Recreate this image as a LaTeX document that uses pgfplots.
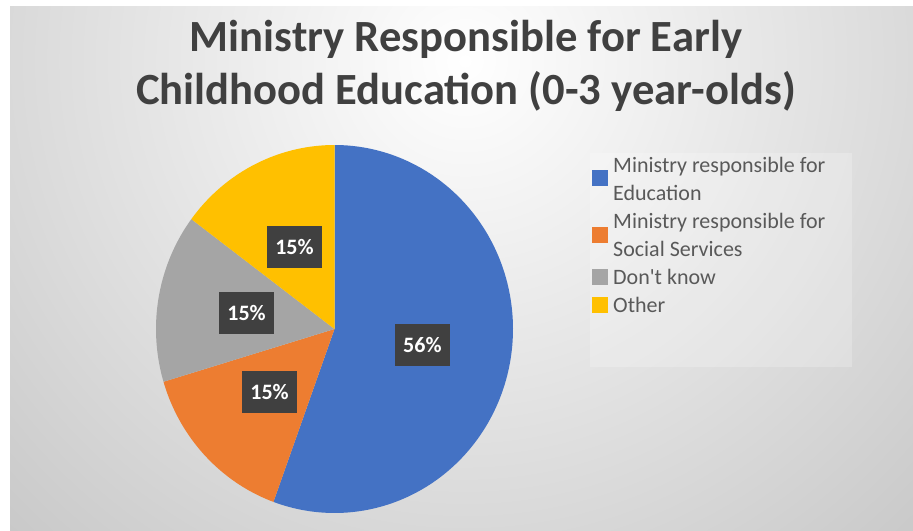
\documentclass[border=0pt]{standalone}
\usepackage{pgfplots}
\pgfplotsset{compat=1.18}
\usepackage{pgfplotstable}
\usepackage{fontspec}
\setmainfont{Carlito}
\definecolor{pieblue}{HTML}{4472C4}
\definecolor{pieorange}{HTML}{ED7D31}
\definecolor{piegray}{HTML}{A5A5A5}
\definecolor{pieyellow}{HTML}{FFC000}
\definecolor{lblbg}{HTML}{404040}
\definecolor{titlec}{HTML}{404040}
\definecolor{legc}{HTML}{595959}
\tikzset{lbl/.style={fill=lblbg, text=white, font=\fontsize{22bp}{26bp}\selectfont\bfseries,
     minimum width=55bp, minimum height=42bp, inner sep=0pt}}

\pgfplotstableread{
value pct
15 56
4 15
4 15
4 15
}\piedata

\begin{document}
\begin{tikzpicture}
\useasboundingbox (0bp,0bp) rectangle (913bp,531bp);
\fill[white] (0bp,0bp) rectangle (913bp,531bp);
\begin{scope}
\clip (10bp,0bp) rectangle (913bp,524bp);
\shade[inner color=white, outer color=black!22] (465bp,470bp) circle (680bp);
\end{scope}

\pgfplotstablegetelem{0}{value}\of\piedata \let\vA\pgfplotsretval
\pgfplotstablegetelem{1}{value}\of\piedata \let\vB\pgfplotsretval
\pgfplotstablegetelem{2}{value}\of\piedata \let\vC\pgfplotsretval
\pgfplotstablegetelem{3}{value}\of\piedata \let\vD\pgfplotsretval
\pgfplotstablegetelem{0}{pct}\of\piedata \let\pA\pgfplotsretval
\pgfplotstablegetelem{1}{pct}\of\piedata \let\pB\pgfplotsretval
\pgfplotstablegetelem{2}{pct}\of\piedata \let\pC\pgfplotsretval
\pgfplotstablegetelem{3}{pct}\of\piedata \let\pD\pgfplotsretval
\pgfmathsetmacro\tot{\vA+\vB+\vC+\vD}
\pgfmathsetmacro\aA{90}
\pgfmathsetmacro\aB{\aA-360*\vA/\tot}
\pgfmathsetmacro\aC{\aB-360*\vB/\tot}
\pgfmathsetmacro\aD{\aC-360*\vC/\tot}
\pgfmathsetmacro\aE{\aD-360*\vD/\tot}
\pgfmathsetmacro\mA{(\aA+\aB)/2}
\pgfmathsetmacro\mB{(\aB+\aC)/2}
\pgfmathsetmacro\mC{(\aC+\aD)/2}
\pgfmathsetmacro\mD{(\aD+\aE)/2}

\begin{axis}[
  at={(334.5bp,202bp)}, anchor=center,
  width=357bp, height=368bp, scale only axis,
  xmin=-1, xmax=1, ymin=-1, ymax=1,
  hide axis, clip=false,
]
\addplot[draw=none, fill=pieblue, domain=\aB:\aA, samples=150, variable=\t]
  ({cos(\t)},{sin(\t)}) -- (axis cs:0,0) -- cycle;
\addplot[draw=none, fill=pieorange, domain=\aC:\aB, samples=60, variable=\t]
  ({cos(\t)},{sin(\t)}) -- (axis cs:0,0) -- cycle;
\addplot[draw=none, fill=piegray, domain=\aD:\aC, samples=60, variable=\t]
  ({cos(\t)},{sin(\t)}) -- (axis cs:0,0) -- cycle;
\addplot[draw=none, fill=pieyellow, domain=\aE:\aD, samples=60, variable=\t]
  ({cos(\t)},{sin(\t)}) -- (axis cs:0,0) -- cycle;
\node[lbl] at (axis cs:{0.5*cos(\mA)},{0.5*sin(\mA)}) {\pA\%};
\node[lbl] at (axis cs:{0.5*cos(\mB)},{0.5*sin(\mB)}) {\pB\%};
\node[lbl] at (axis cs:{0.5*cos(\mC)},{0.5*sin(\mC)}) {\pC\%};
\node[lbl] at (axis cs:{0.5*cos(\mD)},{0.5*sin(\mD)}) {\pD\%};
\end{axis}

% title
\node[anchor=base, inner sep=0pt, text=titlec, font=\fontsize{44.6bp}{54bp}\selectfont\bfseries]
  at (466bp,479.3bp) {Ministry Responsible for Early};
\node[anchor=base, inner sep=0pt, text=titlec, font=\fontsize{44.6bp}{54bp}\selectfont\bfseries]
  at (466bp,426bp) {Childhood Education (0-3 year-olds)};

% legend
\fill[white, opacity=0.22] (590bp,164bp) rectangle (852bp,378bp);
\begin{scope}[every node/.style={anchor=base west, inner sep=0pt, text=legc, font=\fontsize{22bp}{28bp}\selectfont}]
\fill[pieblue]   (599.5bp,353bp) +(-8bp,-8bp) rectangle +(8bp,8bp);
\fill[pieorange] (599.5bp,296bp) +(-8bp,-8bp) rectangle +(8bp,8bp);
\fill[piegray]   (599.5bp,254bp) +(-8bp,-8bp) rectangle +(8bp,8bp);
\fill[pieyellow] (599.5bp,226bp) +(-8bp,-8bp) rectangle +(8bp,8bp);
\node at (613bp,358.7bp) {Ministry responsible for};
\node at (613bp,330.7bp) {Education};
\node at (613bp,302.7bp) {Ministry responsible for};
\node at (613bp,274.3bp) {Social Services};
\node at (613bp,246.7bp) {Don\textquotesingle t know};
\node at (613bp,218.3bp) {Other};
\end{scope}
\end{tikzpicture}
\end{document}
